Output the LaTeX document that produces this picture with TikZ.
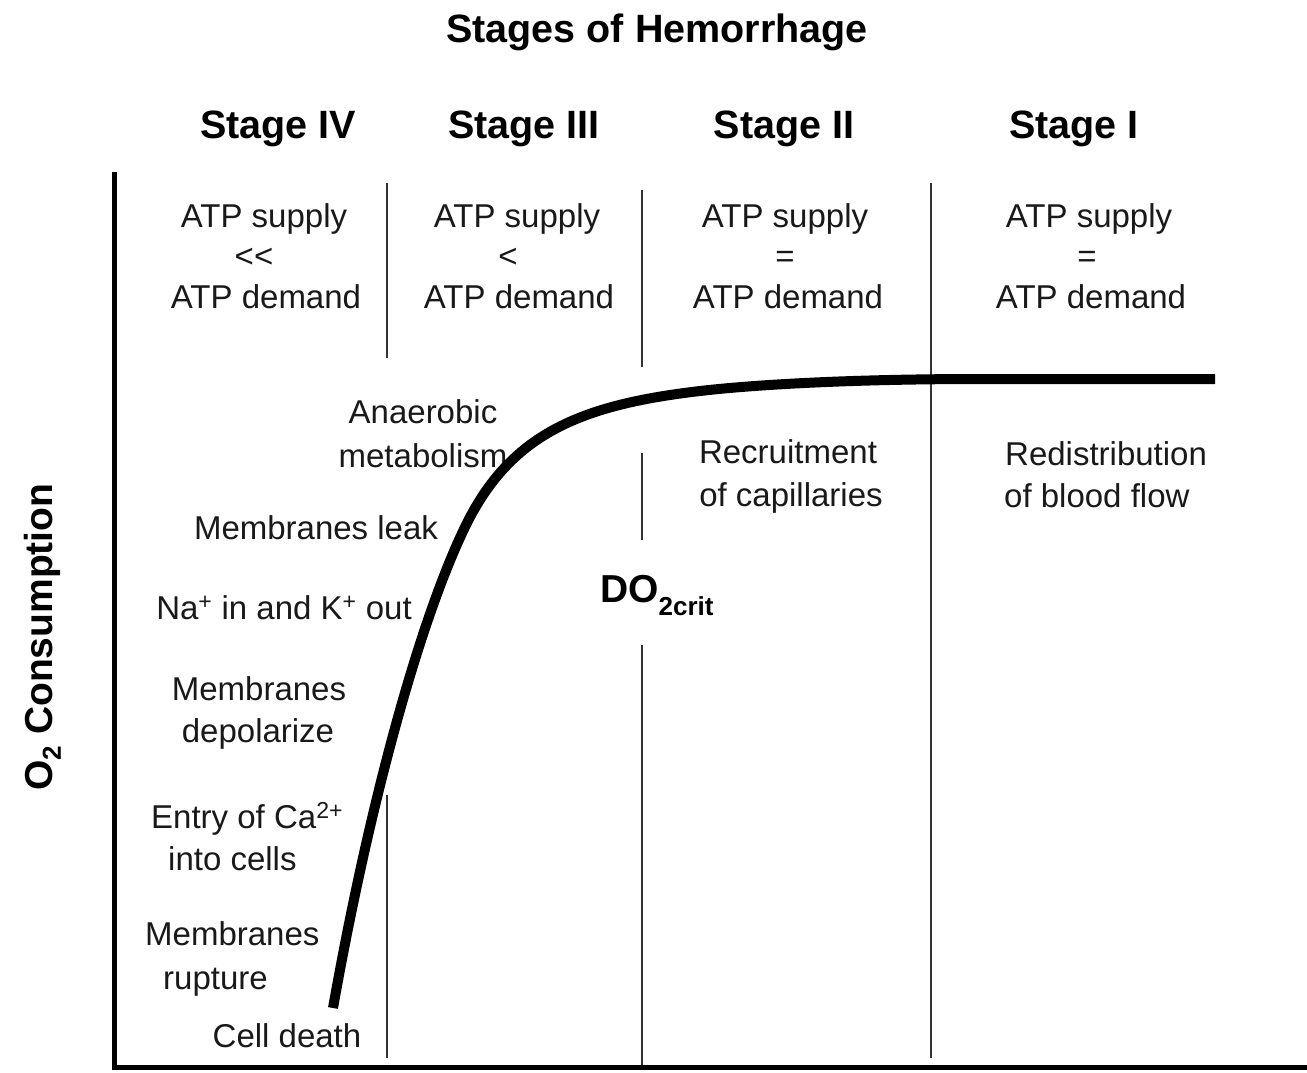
\documentclass[tikz,border=0pt]{standalone}
\usepackage{fontspec}
\setmainfont{Liberation Sans}
\begin{document}
\begin{tikzpicture}[x=1pt,y=-1pt,
  txt/.style={font=\fontsize{33}{41}\selectfont, inner sep=0pt, anchor=base, text=black!90},
  txtw/.style={txt, anchor=base west},
  stg/.style={font=\fontsize{39.5}{47}\selectfont\bfseries, inner sep=0pt, anchor=base},
  axisline/.style={line width=5pt},
  divider/.style={line width=1.8pt, black!80},
  curveline/.style={line width=10pt}]
\useasboundingbox[fill=white] (0,0) rectangle (1307,1072);

% titles
\node[stg] (title) at (657,42) {Stages of Hemorrhage};
\node[stg] (s4) at (278,138) {Stage IV};
\node[stg] (s3) at (524,138) {Stage III};
\node[stg] (s2) at (784,138) {Stage II};
\node[stg] (s1) at (1074,138) {Stage I};

% ATP blocks
\node[txt] (a1) at (264,227) {ATP supply};
\node[txt] (b1) at (254,267) {<\kern0pt<};
\node[txt] (c1) at (266,308) {ATP demand};
\node[txt] (a2) at (517,227) {ATP supply};
\node[txt] (b2) at (508,267) {<};
\node[txt] (c2) at (519,308) {ATP demand};
\node[txt] (a3) at (785,227) {ATP supply};
\node[txt] (b3) at (785,267) {=};
\node[txt] (c3) at (788,308) {ATP demand};
\node[txt] (a4) at (1089,227) {ATP supply};
\node[txt] (b4) at (1087,267) {=};
\node[txt] (c4) at (1091,308) {ATP demand};

% left labels
\node[txt] (anae1) at (423,423) {Anaerobic};
\node[txt] (anae2) at (423,467) {metabolism};
\node[txt] (leak) at (316,539) {Membranes leak};
\node[txt] (nak) at (284,619) {Na\textsuperscript{+} in and K\textsuperscript{+} out};
\node[txt] (dep1) at (259,700) {Membranes};
\node[txt] (dep2) at (258,742) {depolarize};
\node[txtw] (ca1) at (151,828) {Entry of Ca\textsuperscript{2+}};
\node[txtw] (ca2) at (168,870) {into cells};
\node[txtw] (rup1) at (145,945) {Membranes};
\node[txtw] (rup2) at (163,989) {rupture};
\node[txt] (death) at (287,1047) {Cell death};

% right labels
\node[txt] (rec1) at (788,463) {Recruitment};
\node[txt] (rec2) at (791,506) {of capillaries};
\node[txtw] (red1) at (1005,465) {Redistribution};
\node[txtw] (red2) at (1004,507) {of blood flow};

% DO2crit
\node[inner sep=0pt, anchor=base west, font=\bfseries] (do2) at (600,602)
  {\fontsize{39}{47}\selectfont DO\raisebox{-13pt}{\fontsize{26}{30}\selectfont 2crit}};

% y-axis label
\node[inner sep=0pt, anchor=base, rotate=90, font=\bfseries] (ylab) at (52,637)
  {\fontsize{39}{47}\selectfont O\raisebox{-9pt}{\fontsize{26}{30}\selectfont 2} Consumption};

% dividers
\draw[divider] (387,183) -- (387,358);
\draw[divider] (387,795) -- (387,1058);
\draw[divider] (642,190) -- (642,367);
\draw[divider] (642,453) -- (642,540);
\draw[divider] (642,645) -- (642,1068);
\draw[divider] (931,183) -- (931,1058);

% axes
\draw[axisline] (114,172) -- (114,1067) -- (1307,1067);

% curve
\draw[curveline] (333,1008) .. controls (370,800) and (420,620) .. (465,527)
  .. controls (510,434) and (580,405) .. (700,391)
  .. controls (760,384) and (860,379) .. (980,379) -- (1215,379);
\end{tikzpicture}
\end{document}
